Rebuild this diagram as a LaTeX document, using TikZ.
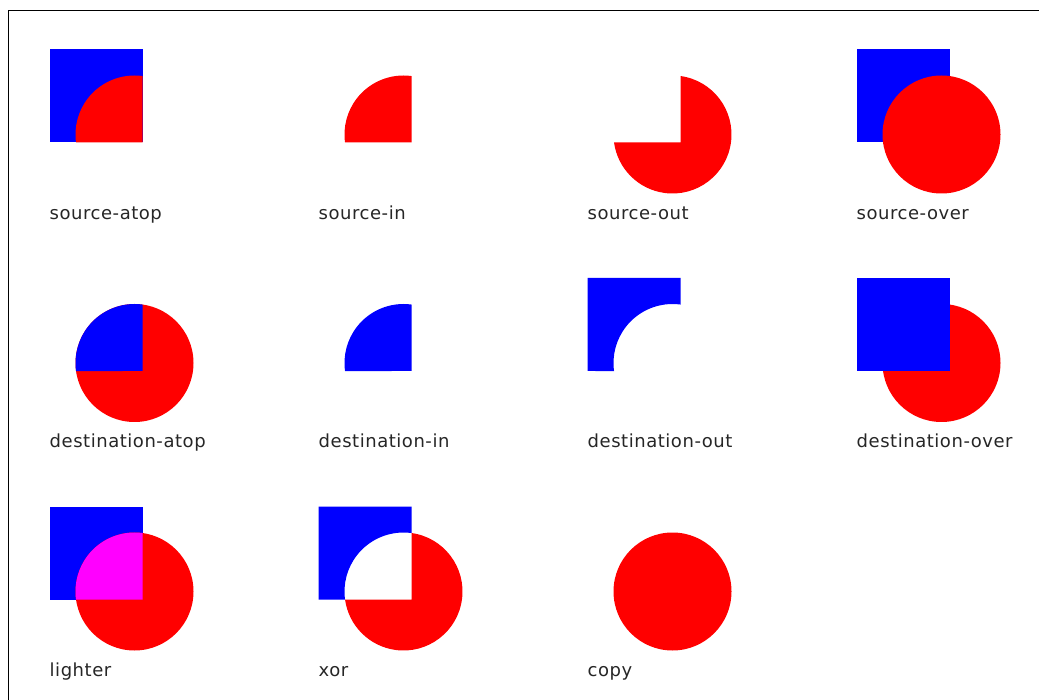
\documentclass[tikz,border=0pt]{standalone}
\usepackage{fontspec}
\setmainfont{DejaVu Sans}[LetterSpace=3]
\usetikzlibrary{positioning}
\definecolor{srcred}{HTML}{FF0000}
\definecolor{dstblue}{HTML}{0000FF}
\definecolor{mixpink}{HTML}{FF00FF}
\newcommand{\dstsq}{(0,0) rectangle (93,93)}
\newcommand{\srccirc}{(85,85) circle[radius=59]}
\newcommand{\bothpart}{(93,93) -- (93,26.545) arc[start angle=-82.2, end angle=-187.8, radius=59] -- cycle}
\newcommand{\dstonly}{(0,0) -- (93,0) -- (93,26.545) arc[start angle=-82.2, end angle=-187.8, radius=59] -- (0,93) -- cycle}
\newcommand{\srconly}{(93,26.545) arc[start angle=-82.2, end angle=172.2, radius=59] -- (93,93) -- cycle}

\begin{document}
\begin{tikzpicture}[x=1pt,y=-1pt,font=\fontsize{18}{20}\selectfont]
\tikzset{lbl/.style={anchor=base west, inner sep=0pt, text=black!85}, dst/.style={fill=dstblue}, src/.style={fill=srcred}, mix/.style={fill=mixpink}}
\useasboundingbox (0,0) rectangle (1039,700);
\draw[line width=1.5pt] (8.5,700) |- (1039,10.5);
% row 1
\begin{scope}[shift={(49.5,49.5)}]
\fill[dst] \dstsq; \fill[src] \bothpart;
\node[lbl] (srcatop) at (0,170) {source-atop};
\end{scope}
\begin{scope}[shift={(318.5,49.5)}]
\fill[src] \bothpart;
\node[lbl] (srcin) at (0,170) {source-in};
\end{scope}
\begin{scope}[shift={(587.5,49.5)}]
\fill[src] \srconly;
\node[lbl] (srcout) at (0,170) {source-out};
\end{scope}
\begin{scope}[shift={(856.5,49.5)}]
\fill[dst] \dstsq; \fill[src] \srccirc;
\node[lbl] (srcover) at (0,170) {source-over};
\end{scope}
% row 2
\begin{scope}[shift={(49.5,278)}]
\fill[src] \srccirc; \fill[dst] \bothpart;
\node[lbl] (dstatop) at (0,170) {destination-atop};
\end{scope}
\begin{scope}[shift={(318.5,278)}]
\fill[dst] \bothpart;
\node[lbl] (dstin) at (0,170) {destination-in};
\end{scope}
\begin{scope}[shift={(587.5,278)}]
\fill[dst] \dstonly;
\node[lbl] (dstout) at (0,170) {destination-out};
\end{scope}
\begin{scope}[shift={(856.5,278)}]
\fill[src] \srccirc; \fill[dst] \dstsq;
\node[lbl] (dstover) at (0,170) {destination-over};
\end{scope}
% row 3
\begin{scope}[shift={(49.5,506.5)}]
\fill[dst] \dstsq; \fill[src] \srccirc; \fill[mix] \bothpart;
\node[lbl] (lighter) at (0,170) {lighter};
\end{scope}
\begin{scope}[shift={(318.5,506.5)}]
\fill[dst] \dstonly; \fill[src] \srconly;
\node[lbl] (xor) at (0,170) {xor};
\end{scope}
\begin{scope}[shift={(587.5,506.5)}]
\fill[src] \srccirc;
\node[lbl] (copy) at (0,170) {copy};
\end{scope}
\end{tikzpicture}
\end{document}
